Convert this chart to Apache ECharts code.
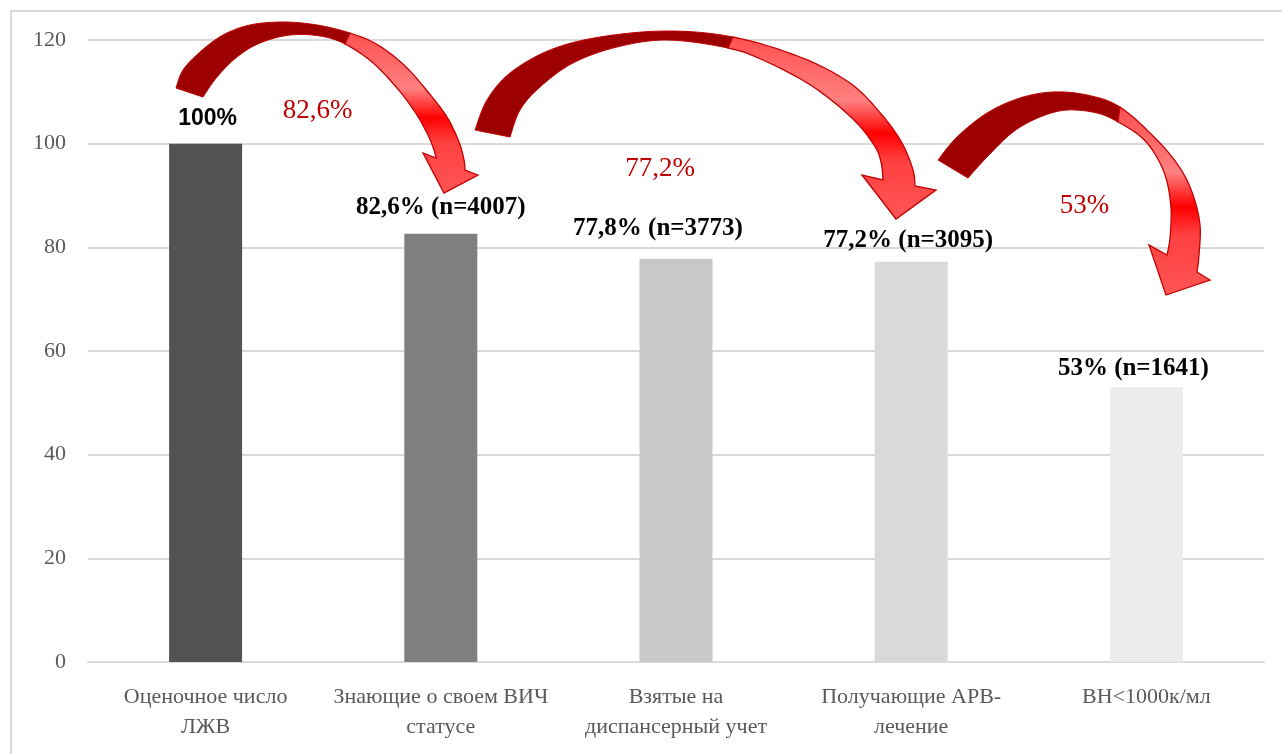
<!DOCTYPE html>
<html><head><meta charset="utf-8">
<script src="https://cdn.jsdelivr.net/npm/echarts@6/dist/echarts.min.js"></script>
<style>html,body{margin:0;padding:0;background:#fff}#c{width:1282px;height:754px}</style>
</head><body><div id="c"></div>
<script>
// ---- data ----
const categories = ["Оценочное число\nЛЖВ", "Знающие о своем ВИЧ\nстатусе", "Взятые на\nдиспансерный учет", "Получающие АРВ-\nлечение", "ВН<1000к/мл"];
const values = [100, 82.6, 77.8, 77.2, 53];
const barLabels = ["100%", "82,6% (n=4007)", "77,8% (n=3773)", "77,2% (n=3095)", "53% (n=1641)"];
const transitionLabels = ["82,6%", "77,2%", "53%"];
const yMin = 0, yMax = 120, yStep = 20;

// ---- styles ----
const barColors = ["#525252", "#7f7f7f", "#c8c8c8", "#d9d9d9", "#ececec"];
const labelDist = [14, 14, 18, 9, 6];
const labelDx = [2, 0, -18, -3, -13];
const SERIF = "'Liberation Serif', 'DejaVu Serif', serif";

const chart = echarts.init(document.getElementById('c'));
chart.setOption({
  animation: false,
  backgroundColor: '#fff',
  grid: { left: 88, right: 18, top: 40, bottom: 92 },
  xAxis: {
    type: 'category', data: categories,
    axisLine: { lineStyle: { color: '#d9d9d9', width: 2 } },
    axisTick: { show: false },
    axisLabel: { color: '#595959', fontFamily: SERIF, fontSize: 22, lineHeight: 30, margin: 20, interval: 0 }
  },
  yAxis: {
    type: 'value', min: yMin, max: yMax, interval: yStep,
    axisLine: { show: false }, axisTick: { show: false },
    splitLine: { lineStyle: { color: '#d9d9d9', width: 2 } },
    axisLabel: { color: '#595959', fontFamily: SERIF, fontSize: 22, margin: 22 }
  },
  series: [{
    type: 'bar', barWidth: 73,
    data: values.map((v, i) => ({
      value: v,
      itemStyle: { color: barColors[i] },
      label: {
        show: true, position: 'top', distance: labelDist[i], offset: [labelDx[i], 0],
        formatter: barLabels[i], color: '#000',
        fontFamily: i === 0 ? "'Liberation Sans', Arial, sans-serif" : SERIF,
        fontWeight: 'bold', fontSize: i === 0 ? 23 : 25
      }
    }))
  }]
});

// ---- decorative curved arrows (drawn over the chart) ----
const arrows = [
  { outer: [[176,88],[183,70],[200,52],[223,35],[250,25],[283,22],[317,25],[350,33],[378,45],[405,66],[428,92],[447,117],[459,142],[464,160],[465,170]], os: 7,
    inner: [[203,97],[217,77],[237,57],[260,43],[290,35],[320,36],[345,44],[372,62],[397,88],[415,112],[428,135],[434,150],[436,158]], is: 6,
    head: [[478,175],[444,193],[423,153]] },
  { outer: [[475,130],[487,100],[510,73],[550,50],[600,37],[667,31],[733,37],[800,57],[850,83],[882,115],[902,143],[913,170],[915,186]], os: 6,
    inner: [[510,137],[520,110],[540,87],[573,63],[617,47],[667,40],[728,48],[765,61],[812,86],[852,118],[874,145],[881,162],[883,180]], is: 6,
    head: [[936,190],[896,219],[862,175]] },
  { outer: [[938,160],[957,137],[987,113],[1020,98],[1053,92],[1087,95],[1120,107],[1157,140],[1180,168],[1193,195],[1200,225],[1199,255],[1197,272]], os: 6,
    inner: [[968,178],[987,157],[1013,132],[1040,117],[1067,110],[1097,113],[1118,122],[1140,136],[1155,154],[1166,178],[1171,208],[1170,238],[1167,255]], is: 6,
    head: [[1210,280],[1166,295],[1149,245]] }
];
const K = 8;
function dense(pts) {
  const out = [], n = pts.length;
  for (let i = 0; i < n - 1; i++) {
    const p0 = pts[Math.max(i - 1, 0)], p1 = pts[i], p2 = pts[i + 1], p3 = pts[Math.min(i + 2, n - 1)];
    for (let j = 0; j < K; j++) {
      const t = j / K, t2 = t * t, t3 = t2 * t;
      const f = (a, b, c, d) => 0.5 * ((2 * b) + (-a + c) * t + (2 * a - 5 * b + 4 * c - d) * t2 + (-a + 3 * b - 3 * c + d) * t3);
      out.push([f(p0[0], p1[0], p2[0], p3[0]), f(p0[1], p1[1], p2[1], p3[1])]);
    }
  }
  out.push(pts[n - 1]);
  return out;
}
const graphics = [{ type: 'rect', silent: true, shape: { x: 11, y: 11, width: 1300, height: 800 }, style: { fill: 'none', stroke: '#d9d9d9', lineWidth: 2 }, z: 0 }];
arrows.forEach(a => {
  const o = dense(a.outer), inn = dense(a.inner);
  const os = a.os * K, is = a.is * K;
  const back = o.slice(0, os + 1).concat(inn.slice(0, is + 1).reverse());
  const front = o.slice(os).concat(a.head).concat(inn.slice(is).reverse());
  graphics.push({ type: 'polygon', silent: true, z: 100, shape: { points: back }, style: { fill: '#9c0000', stroke: '#c00000', lineWidth: 1 } });
  graphics.push({ type: 'polygon', silent: true, z: 101, shape: { points: front }, style: {
    fill: new echarts.graphic.LinearGradient(0, 0, 0, 1, [
      { offset: 0, color: '#ff5050' }, { offset: 0.35, color: '#ff8080' }, { offset: 0.53, color: '#ff0000' },
      { offset: 0.68, color: '#ff4040' }, { offset: 1, color: '#ff5555' }]),
    stroke: '#c00000', lineWidth: 1.3 } });
});
// transition percentages, anchored in data space (category position, value)
const transitionAnchors = [[0.476, 106.3], [1.932, 95.2], [3.737, 87.9]];
const x0 = chart.convertToPixel({ xAxisIndex: 0 }, 0), x1 = chart.convertToPixel({ xAxisIndex: 0 }, 1);
transitionLabels.forEach((t, i) => {
  const [c, v] = transitionAnchors[i];
  graphics.push({ type: 'text', silent: true, z: 102,
    x: x0 + c * (x1 - x0), y: chart.convertToPixel({ yAxisIndex: 0 }, v),
    style: { text: t, fill: '#c00000', font: "27px 'Liberation Serif', serif", align: 'center', verticalAlign: 'middle' } });
});
chart.setOption({ graphic: graphics });
</script>
</body></html>
